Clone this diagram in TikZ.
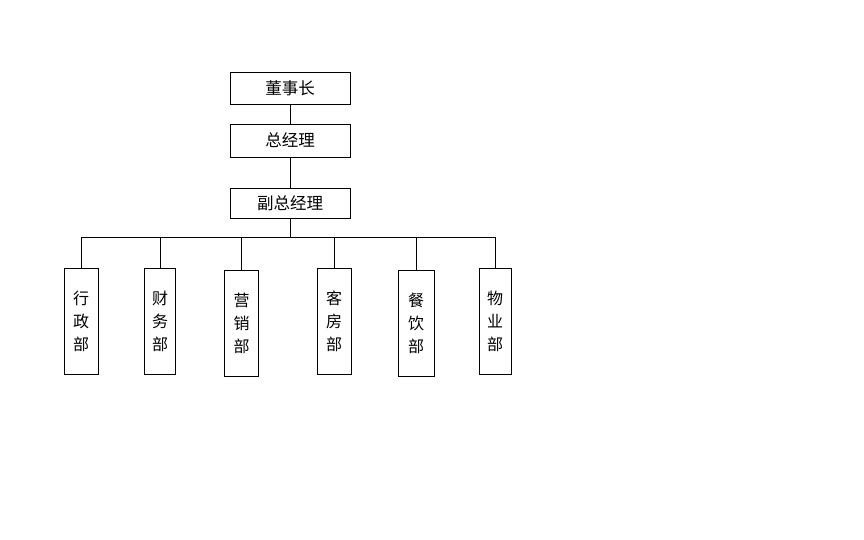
\documentclass[tikz,border=0pt]{standalone}
\usepackage{fontspec}
\newfontfamily\cjk{Noto Sans CJK SC}
\usetikzlibrary{positioning}

\begin{document}
\begin{tikzpicture}[x=1pt, y=-1pt, line width=0.8pt,
    headbox/.style={draw=black, minimum width=120pt, minimum height=32pt, inner sep=0pt,
        font=\cjk\fontsize{16.5}{18}\selectfont},
    deptbox/.style={draw=black, minimum width=34pt, minimum height=106pt, inner sep=0pt,
        align=center, font=\cjk\fontsize{16}{23}\selectfont}]
    \useasboundingbox (0,0) rectangle (864,540);
    % top of the chart
    \node[headbox] (chair) at (290,88) {董事长};
    \node[headbox, minimum height=33pt] (gm) at (290,140.5) {总经理};
    \node[headbox, minimum height=30pt] (vgm) at (290,203) {副总经理};
    \coordinate (bus) at (290,237);
    % departments
    \node[deptbox] (admin) at (81,321) {行\\政\\部};
    \node[deptbox, minimum width=31pt] (finance) at (160,321) {财\\务\\部};
    \node[deptbox] (sales) at (241.5,323) {营\\销\\部};
    \node[deptbox] (rooms) at (334,321) {客\\房\\部};
    \node[deptbox, minimum width=36pt] (food) at (416,323) {餐\\饮\\部};
    \node[deptbox, minimum width=32pt] (estate) at (495,321) {物\\业\\部};
    % connectors
    \draw (chair) -- (gm);
    \draw (gm) -- (vgm);
    \draw (vgm.south) -- (bus);
    \draw (admin.north) |- (bus);
    \draw (finance.north) |- (bus);
    \draw (sales.north) |- (bus);
    \draw (rooms.north) |- (bus);
    \draw (food.north) |- (bus);
    \draw (estate.north) |- (bus);
\end{tikzpicture}
\end{document}
